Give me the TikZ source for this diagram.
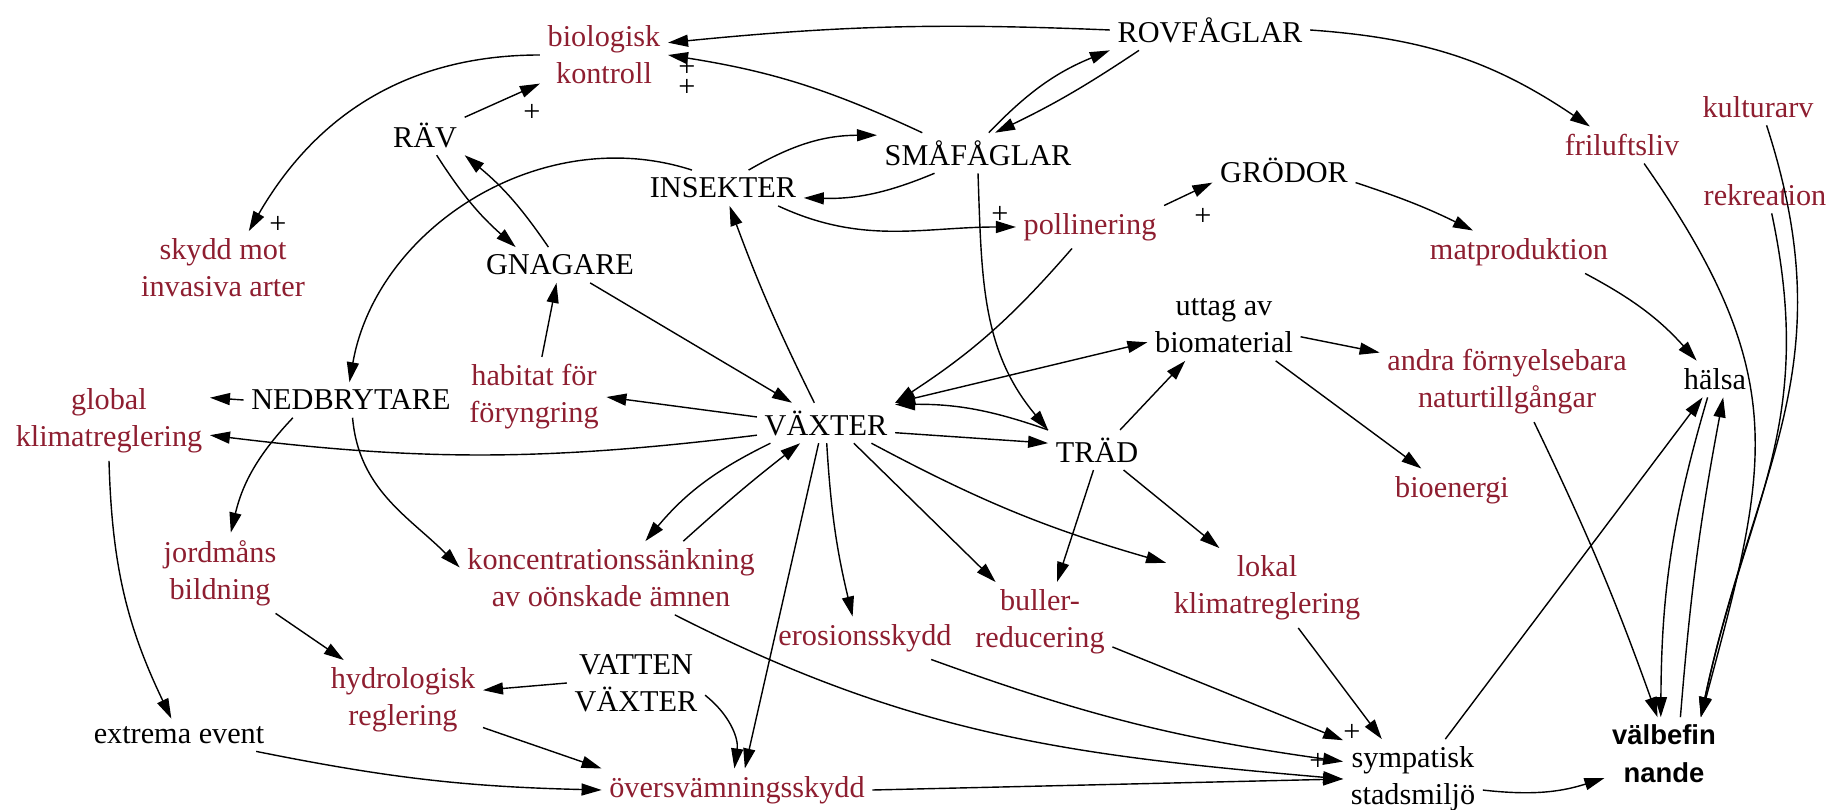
\documentclass[tikz,border=0pt]{standalone}
\usepackage{fontspec}
\setmainfont{Liberation Serif}
\newfontfamily\wellfont{Liberation Sans}
\usepackage{xcolor}
\usetikzlibrary{arrows.meta}

\definecolor{esred}{RGB}{142,30,48}

\begin{document}
\begin{tikzpicture}[
  x=0.01cm, y=0.01cm,
  factor/.style={align=center, inner sep=2pt, font=\fontsize{8.6}{10.5}\selectfont},
  service/.style={factor, text=esred},
  wellbeing/.style={align=center, inner sep=2pt, font=\wellfont\bfseries\fontsize{7.8}{10.8}\selectfont},
  plus/.style={inner sep=0pt, font=\fontsize{8.6}{10.5}\selectfont},
  arrow/.style={draw, -{Triangle[length=2mm, width=1.2mm]}, line width=0.4pt},
  twoway/.style={draw, {Triangle[length=2mm, width=1.2mm]}-{Triangle[length=2mm, width=1.2mm]}, line width=0.4pt}
]
  \useasboundingbox (0,0) rectangle (1831,-810);

  % animals and plants
  \node [service] (bio)   at (604,-55)  {biologisk\\kontroll};
  \node [factor]  (rov)   at (1210,-30) {ROVFÅGLAR};
  \node [factor]  (rav)   at (425,-135) {RÄV};
  \node [factor]  (sma)   at (978,-153) {SMÅFÅGLAR};
  \node [factor]  (ins)   at (723,-188) {INSEKTER};
  \node [factor]  (grod)  at (1284,-170) {GRÖDOR};
  \node [service] (poll)  at (1090,-227) {pollinering};
  \node [service] (skydd) at (223,-268) {skydd mot\\invasiva arter};
  \node [factor]  (gnag)  at (560,-265) {GNAGARE};
  \node [factor]  (nedb)  at (351,-400) {NEDBRYTARE};
  \node [service] (hab)   at (534,-397) {habitat för\\föryngring};
  \node [factor]  (vax)   at (826,-423) {VÄXTER};
  \node [factor]  (trad)  at (1097,-450) {TRÄD};
  \node [factor]  (vatt)  at (636,-683) {VATTEN\\VÄXTER};

  % services
  \node [service] (kult)  at (1758,-107) {kulturarv};
  \node [service] (fril)  at (1622,-145) {friluftsliv};
  \node [service] (rekr)  at (1765,-195) {rekreation};
  \node [service] (mat)   at (1519,-252) {matproduktion};
  \node [factor]  (uttag) at (1224,-326) {uttag av\\biomaterial};
  \node [service] (andra) at (1507,-382) {andra förnyelsebara\\naturtillgångar};
  \node [factor]  (halsa) at (1715,-379) {hälsa};
  \node [service] (glob)  at (109,-421) {global\\klimatreglering};
  \node [service] (bioe)  at (1452,-490) {bioenergi};
  \node [service] (jord)  at (220,-573) {jordmåns\\bildning};
  \node [service] (konc)  at (611,-578) {koncentrationssänkning\\av oönskade ämnen};
  \node [service] (lokal) at (1267,-588) {lokal\\klimatreglering};
  \node [service] (bull)  at (1040,-622) {buller-\\reducering};
  \node [service] (eros)  at (865,-638) {erosionsskydd};
  \node [service] (hydr)  at (403,-700) {hydrologisk\\reglering};
  \node [factor]  (extr)  at (179,-735) {extrema event};
  \node [service] (over)  at (737,-790) {översvämningsskydd};
  \node [factor]  (symp)  at (1413,-779) {sympatisk\\stadsmiljö};
  \node [wellbeing] (valb) at (1664,-754) {välbefin\\nande};

  % polarity signs
  \node [plus] (pl1) at (687,-68)   {+};
  \node [plus] (pl2) at (687,-88)   {+};
  \node [plus] (pl3) at (532,-113)  {+};
  \node [plus] (pl4) at (278,-225)  {+};
  \node [plus] (pl5) at (1000,-215) {+};
  \node [plus] (pl6) at (1203,-217) {+};
  \node [plus] (pl7) at (1352,-733) {+};
  \node [plus] (pl8) at (1318,-762) {+};

  % top of the food web
  \draw [arrow] (rov.west) to[bend right=4] ([yshift=3.5pt]bio.east);
  \draw [arrow] (sma.160) to[bend right=8] (bio.east);
  \draw [arrow] (rav) -- (bio);
  \draw [arrow] (bio.west) to[out=180, in=60] (skydd.55);
  \draw [arrow] (sma.62) to[bend left=12] (rov.south west);
  \draw [arrow] (rov.196) to[bend left=4] (sma.50);
  \draw [arrow] (rov.east) to[bend left=15] (fril.150);
  \draw [arrow] (ins.35) to[bend left=15] (sma.170);
  \draw [arrow] (sma.205) to[bend left=12] (ins.-7);
  \draw [arrow] (ins.150) to[out=162, in=80] (nedb.95);
  \draw [arrow] (ins.-18) to[out=-25, in=180] (poll.west);
  \draw [arrow] (sma.south) to[out=-88, in=130] (trad.north west);
  \draw [arrow] (poll.north east) -- (grod.190);
  \draw [arrow] (grod.-10) to[bend left=4] (mat.155);
  \draw [arrow] (poll.-130) to[bend left=8] (vax.north east);
  \draw [arrow] (mat.-18) to[bend left=10] (halsa.135);
  \draw [arrow] (rav.-60) to[bend right=8] (gnag.158);
  \draw [arrow] (gnag.123) to[bend right=8] (rav.south east);
  \draw [arrow] (hab) -- (gnag);
  \draw [arrow] (gnag) -- (vax);
  \draw [arrow] (vax.120) to[bend left=3] (ins.-70);

  % plants and trees
  \draw [twoway] (vax.north east) -- (uttag.192);
  \draw [arrow] (trad.north west) to[bend right=10] (vax.15);
  \draw [arrow] (vax.-8) -- (trad.172);
  \draw [arrow] (trad.41) -- (uttag.222);
  \draw [arrow] (uttag.-8) -- (andra.167);
  \draw [arrow] (uttag.-34) -- (bioe.145);
  \draw [arrow] (vax.175) -- (hab.east);
  \draw [arrow] (vax.190) to[bend left=7] (glob.-8);
  \draw [arrow] (vax.200) to[bend right=12] (konc.47);
  \draw [arrow] (konc.27) to[bend left=2] (vax.218);
  \draw [arrow] (vax.-110) -- (over.70);
  \draw [arrow] (vax.-88) to[bend right=5] (eros.120);
  \draw [arrow] (vax.-36) -- (bull.138);
  \draw [arrow] (vax.-24) to[bend right=6] (lokal.166);
  \draw [arrow] (trad.-100) -- (bull.67);
  \draw [arrow] (trad.-37) -- (lokal.140);

  % decomposers and water
  \draw [arrow] (nedb.west) -- (glob.13);
  \draw [arrow] (nedb.197) to[bend right=15] (jord.75);
  \draw [arrow] (nedb.-85) to[out=-85, in=135] (konc.176);
  \draw [arrow] (glob.south) to[bend right=12] (extr.115);
  \draw [arrow] (jord.-36) -- (hydr.146);
  \draw [arrow] (vatt.west) -- (hydr.7);
  \draw [arrow] (vatt.-10) to[bend left=30] (over.97);
  \draw [arrow] (hydr.-19) -- (over.north west);
  \draw [arrow] (extr.-12) to[bend right=5] (over.west);

  % urban environment and wellbeing
  \draw [arrow] (konc.-30) to[out=-27, in=175] (symp.west);
  \draw [arrow] (eros.-18) to[bend right=6] (symp.166);
  \draw [arrow] (bull.-19) -- (symp.151);
  \draw [arrow] (lokal.-52) -- (symp.128);
  \draw [arrow] (over.east) -- (symp.west);
  \draw [arrow] (symp.-9) to[bend right=12] (valb.202);
  \draw [arrow] (symp.51) -- (halsa.236);
  \draw [arrow] (andra.-56) to[bend left=3] (valb.100);
  \draw [arrow] (halsa.248) to[bend right=8] (valb.95);
  \draw [arrow] (valb.66) to[bend left=3] (halsa.-66);
  \draw [arrow] (fril.-40) to[out=-55, in=75, looseness=1.2] (valb.45);
  \draw [arrow] (rekr.-70) to[out=-78, in=78, looseness=1.1] (valb.45);
  \draw [arrow] (kult.-65) to[out=-72, in=78, looseness=1.1] (valb.45);
\end{tikzpicture}
\end{document}
